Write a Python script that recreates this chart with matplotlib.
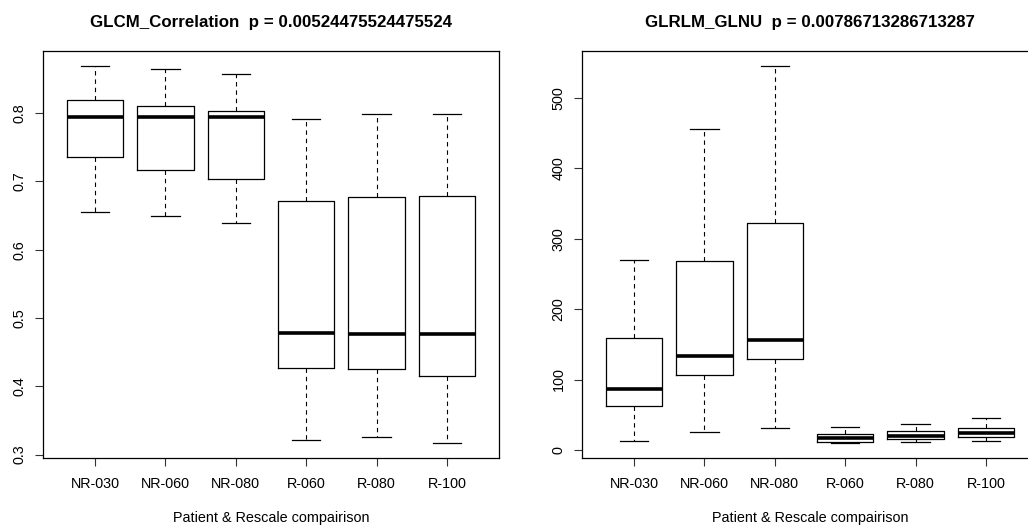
import matplotlib.pyplot as plt

plt.rcParams['font.family'] = ['Liberation Sans', 'DejaVu Sans']

groups = ['NR-030', 'NR-060', 'NR-080', 'R-060', 'R-080', 'R-100']

# GLCM_Correlation: lower whisker, Q1, median, Q3, upper whisker
corr_lo = [0.655, 0.650, 0.639, 0.321, 0.325, 0.317]
corr_q1 = [0.736, 0.717, 0.703, 0.427, 0.425, 0.415]
corr_med = [0.794, 0.794, 0.794, 0.478, 0.477, 0.477]
corr_q3 = [0.820, 0.811, 0.803, 0.672, 0.677, 0.679]
corr_hi = [0.869, 0.865, 0.858, 0.791, 0.799, 0.799]

# GLRLM_GLNU
glnu_lo = [13, 25, 31, 10, 12, 13]
glnu_q1 = [63, 106, 129, 11, 15, 18]
glnu_med = [86, 134, 156, 17, 20, 24]
glnu_q3 = [159, 268, 322, 22, 27, 31]
glnu_hi = [270, 455, 545, 33, 37, 45]

titles = ['GLCM_Correlation  p = 0.00524475524475524',
          'GLRLM_GLNU  p = 0.00786713286713287']
yticks = [[0.3, 0.4, 0.5, 0.6, 0.7, 0.8], [0, 100, 200, 300, 400, 500]]
ytick_labels = [['0.3', '0.4', '0.5', '0.6', '0.7', '0.8'],
                ['0', '100', '200', '300', '400', '500']]
xlabel = 'Patient & Rescale compairison'


def make_stats(lo, q1, med, q3, hi):
    return [dict(whislo=a, q1=b, med=c, q3=d, whishi=e, label=g)
            for a, b, c, d, e, g in zip(lo, q1, med, q3, hi, groups)]


data = [make_stats(corr_lo, corr_q1, corr_med, corr_q3, corr_hi),
        make_stats(glnu_lo, glnu_q1, glnu_med, glnu_q3, glnu_hi)]

fig = plt.figure(figsize=(10.28, 5.29), dpi=100)
W, H = 1028, 529
lefts = [43, 582]

for i in range(2):
    ax = fig.add_axes([lefts[i] / W, (H - 458) / H, 456 / W, 407 / H])
    ax.bxp(data[i], positions=range(1, 7), widths=0.8, capwidths=0.4,
           showfliers=False, patch_artist=False,
           boxprops=dict(color='black', lw=0.9),
           medianprops=dict(color='black', lw=2.6, solid_capstyle='butt'),
           whiskerprops=dict(color='black', lw=0.8, linestyle=(0, (4, 3.5))),
           capprops=dict(color='black', lw=0.9))
    lo = min(s['whislo'] for s in data[i])
    hi = max(s['whishi'] for s in data[i])
    ext = (hi - lo) * 0.04
    ax.set_ylim(lo - ext, hi + ext)
    ax.set_xlim(0.26, 6.74)
    ax.set_xticks(range(1, 7))
    ax.set_xticklabels(groups)
    ax.set_yticks(yticks[i])
    ax.set_yticklabels(ytick_labels[i], rotation=90, va='center')
    ax.tick_params(axis='both', length=5.8, width=0.8, labelsize=10.4, color='#333333')
    ax.tick_params(axis='x', pad=8)
    ax.tick_params(axis='y', pad=6)
    for sp in ax.spines.values():
        sp.set_linewidth(0.9)
    ax.set_title(titles[i], fontsize=12.2, fontweight='bold', pad=17.5)
    ax.set_xlabel(xlabel, fontsize=10.4)
    ax.xaxis.set_label_coords(0.5, -0.147)
    ax.xaxis.label.set_va('center')

fig.savefig('out.png', dpi=100)
